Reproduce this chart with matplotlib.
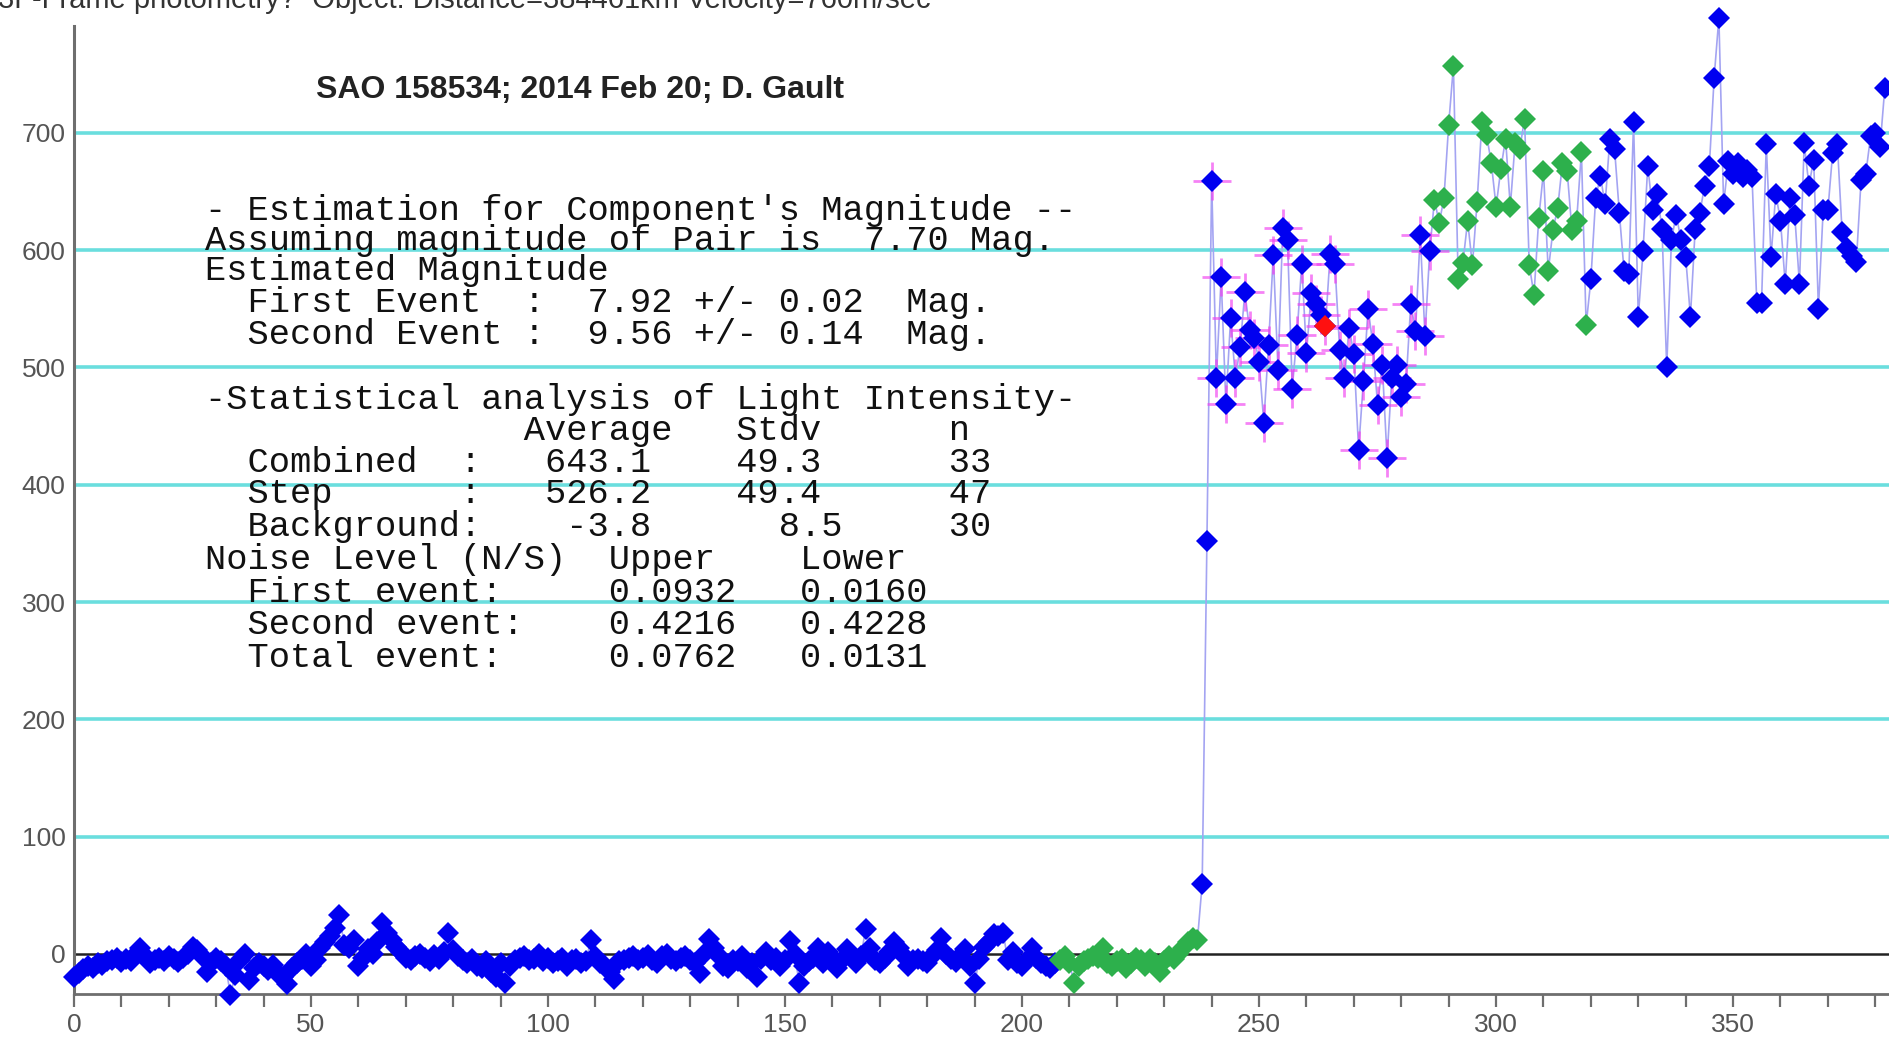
import numpy as np
import matplotlib
matplotlib.use("Agg")
import matplotlib.pyplot as plt

# light curve, one value per video frame
bg_vals = [-20, -16, -13, -10, -12, -8, -9, -6, -5, -3,
           -7, -4, -6, 0, 5, -2, -8, -5, -3, -6,
           -2, -4, -7, -3, 0, 6, 3, -2, -15, -8,
           -3, -6, -10, -35, -18, -5, 0, -22, -12, -8,
           -10, -14, -9, -17, -20, -26, -12, -8, -4, 0,
           -10, -5, 5, 10, 15, 22, 33, 8, 5, 12,
           -10, -3, 4, 0, 10, 26, 18, 12, 6, 2,
           -3, -5, -2, 0, -3, -6, -1, -4, 2, 18,
           3, -2, -5, -8, -4, -10, -12, -6, -15, -20,
           -8, -25, -10, -5, -3, -2, -5, -4, 0, -6,
           -3, -8, -6, -3, -10, -5, -4, -8, -6, 12,
           -2, -8, -10, -15, -21, -6, -5, -3, -2, -5,
           -3, -1, -5, -8, -2, 0, -4, -6, -3, -2,
           -5, -8, -16, 0, 13, 5, -2, -10, -12, -5,
           -6, -2, -12, -8, -20, -4, 2, -5, -3, -10,
           -5, 11, 0, -25, -10, -6, -3, 5, -8, 2,
           -3, -12, -5, 4, 0, -8, -2, 21, 5, -5,
           -8, -3, 2, 10, 5, -2, -10, -5, -4, -6,
           -8, -2, 3, 14, 0, -4, -7, -2, 4, -10,
           -25, -4, 6, 10, 17, 15, 18, -5, 2, -8,
           -10, -5, 5, -3, -8, -10, -12, -8]
bg_ref_vals = [-5, -2, -8, -25, -10, -6, -4, -2, -3, 5,
               -8, -10, -6, -4, -12, -8, -3, -5, -10, -4,
               -8, -15, -6, -2, -4, 0, 5, 10, 14, 12]
rise_vals = [60, 352]
step_vals = [659, 491, 577, 469, 542, 491, 517, 564, 532, 525,
             505, 453, 519, 596, 498, 619, 609, 482, 528, 588,
             512, 563, 554, 545, 535, 597, 588, 515, 491, 534,
             511, 430, 488, 550, 520, 468, 502, 423, 491, 502,
             475, 486, 554, 531, 613, 527, 599]
comb_vals = [643, 623, 644, 707, 757, 575, 589, 625, 587, 641,
             709, 698, 674, 637, 669, 695, 637, 691, 686, 712,
             587, 562, 627, 667, 582, 617, 636, 674, 667, 617,
             625, 684, 536]
tail_vals = [575, 644, 663, 639, 695, 686, 632, 582, 580, 709,
             543, 599, 672, 634, 648, 618, 500, 609, 630, 609,
             594, 543, 618, 632, 655, 672, 747, 798, 639, 676,
             665, 674, 662, 668, 662, 555, 555, 690, 594, 648,
             625, 571, 644, 630, 571, 691, 655, 677, 550, 634,
             634, 683, 690, 615, 602, 595, 590, 660, 665, 697,
             700, 688, 738]
red_frame = 264

y_ticks = [0, 100, 200, 300, 400, 500, 600, 700]
x_ticks = [0, 50, 100, 150, 200, 250, 300, 350]

title = "SAO 158534; 2014 Feb 20; D. Gault"
header = "3F-Frame photometry?  Object: Distance=384461km Velocity=760m/sec"
report = [
    "- Estimation for Component's Magnitude --",
    "Assuming magnitude of Pair is  7.70 Mag.",
    "Estimated Magnitude",
    "  First Event  :  7.92 +/- 0.02  Mag.",
    "  Second Event :  9.56 +/- 0.14  Mag.",
    "-Statistical analysis of Light Intensity-",
    "               Average   Stdv      n",
    "  Combined  :   643.1    49.3      33",
    "  Step      :   526.2    49.4      47",
    "  Background:    -3.8      8.5     30",
    "Noise Level (N/S)  Upper    Lower",
    "  First event:     0.0932   0.0160",
    "  Second event:    0.4216   0.4228",
    "  Total event:     0.0762   0.0131",
]
report_y = [210, 240, 270, 302, 334, 399, 430, 462, 493, 526, 559, 592, 624, 657]

segments = [bg_vals, bg_ref_vals, rise_vals, step_vals, comb_vals, tail_vals]
starts = np.cumsum([0] + [len(s) for s in segments])
frames = [np.arange(a, a + len(s)) for a, s in zip(starts[:-1], segments)]
all_x = np.concatenate(frames)
all_y = np.concatenate(segments)

BLUE = "#0000f0"
GREEN = "#2db04c"
CYAN = "#6adede"

fig = plt.figure(figsize=(18.9, 10.45), dpi=100)
ax = fig.add_axes([74 / 1890, 1 - 994 / 1045, 1 - 74 / 1890, (994 - 26) / 1045])
ax.set_xlim(0, 383.1)
ax.set_ylim(-34.1, 791)

for v in y_ticks[1:]:
    ax.axhline(v, color=CYAN, lw=2.6, zorder=1)
ax.axhline(0, color="#222222", lw=1.8, zorder=1)

ax.plot(all_x, all_y, color="#a4a4f2", lw=1.2, zorder=2)

ms = 11
ax.plot(frames[3], step_vals, ls="none", marker="+", ms=28, mew=2.0,
        color="#f040f0", alpha=0.65, zorder=3)
for fr, vals, col in [(frames[0], bg_vals, BLUE), (frames[1], bg_ref_vals, GREEN),
                      (frames[2], rise_vals, BLUE), (frames[3], step_vals, BLUE),
                      (frames[4], comb_vals, GREEN), (frames[5], tail_vals, BLUE)]:
    ax.plot(fr, vals, ls="none", marker="D", ms=ms, mew=0, color=col,
            zorder=4, clip_on=False)
ri = red_frame - starts[3]
ax.plot([red_frame], [step_vals[ri]], ls="none", marker="D", ms=ms, mew=0,
        color="#ff1010", zorder=5)

for s in ["top", "right"]:
    ax.spines[s].set_visible(False)
ax.spines["left"].set_color("#6e6e6e")
ax.spines["left"].set_linewidth(2.2)
ax.spines["bottom"].set_color("#6e6e6e")
ax.spines["bottom"].set_linewidth(2.0)

ax.set_yticks(y_ticks)
ax.set_yticklabels([str(v) for v in y_ticks])
ax.set_xticks(np.arange(0, 381, 10), minor=True)
ax.set_xticks(x_ticks)
ax.set_xticklabels([str(v) for v in x_ticks])
ax.tick_params(axis="y", length=0, pad=6, labelsize=19, labelcolor="#555555")
ax.tick_params(axis="x", which="both", length=9, width=1.6, color="#6e6e6e",
               direction="out", pad=5, labelsize=19, labelcolor="#555555")
for lab in ax.get_xticklabels() + ax.get_yticklabels():
    lab.set_family("Liberation Sans")

fig.text(-2 / 1890, 1 - 8 / 1045, header, fontsize=21, color="#333333",
         family="Liberation Sans", va="baseline", ha="left")
fig.text(316 / 1890, 1 - 90 / 1045, title, fontsize=23, fontweight="bold",
         color="#222222", family="Liberation Sans", va="center", ha="left")
for line, yp in zip(report, report_y):
    fig.text(205 / 1890, 1 - (yp + 10) / 1045, line, fontsize=25.5,
             color="#111111", family="Liberation Mono", va="baseline", ha="left")

fig.savefig("out.png", dpi=100)
